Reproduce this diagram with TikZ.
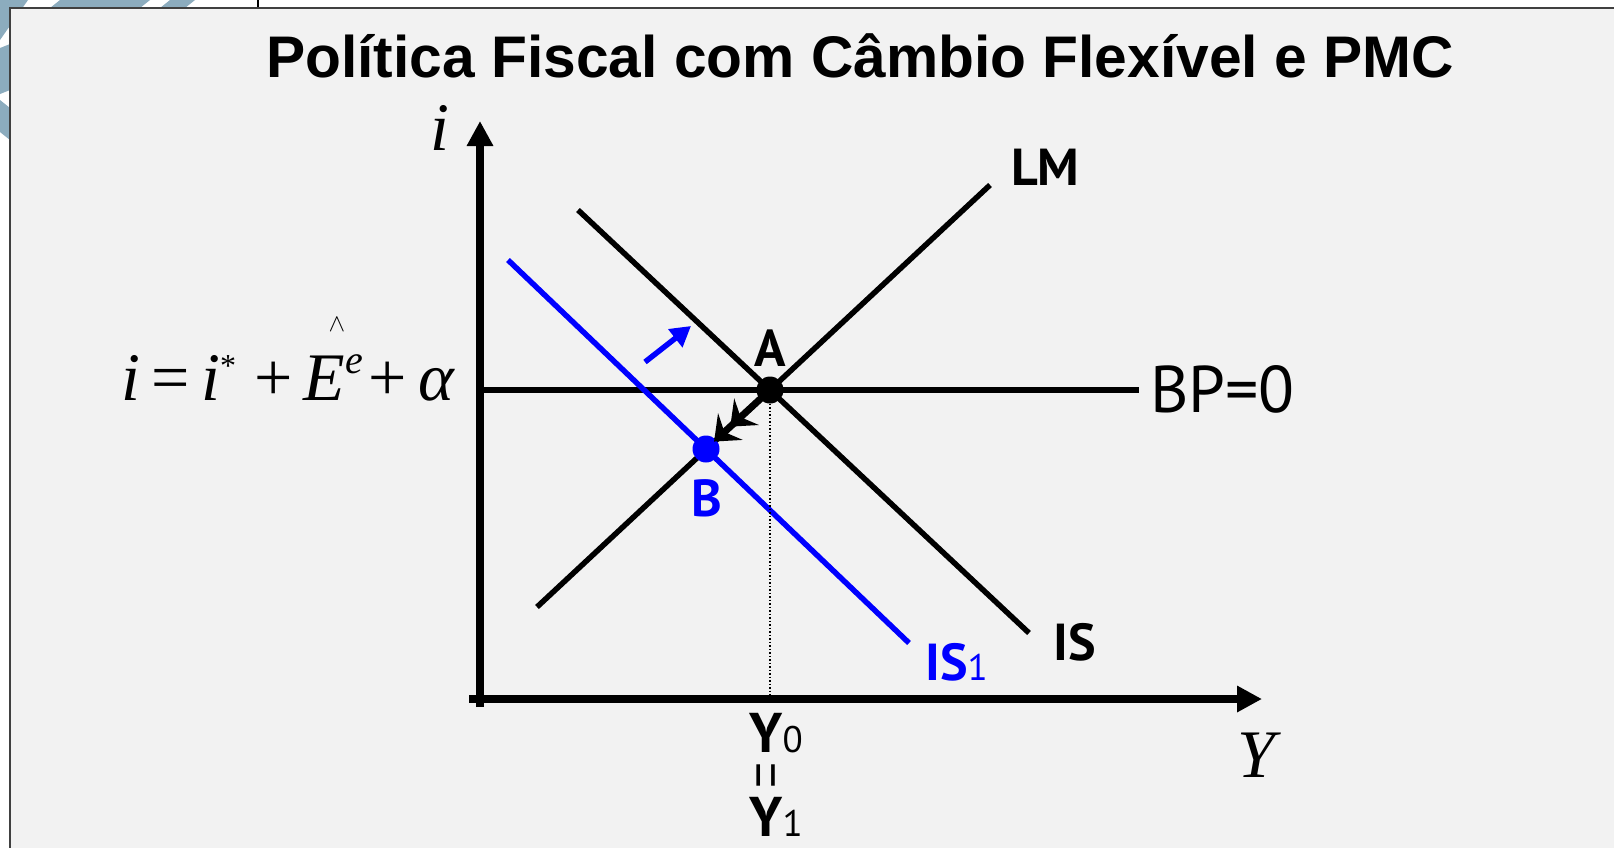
\documentclass[tikz,border=0pt]{standalone}
\usepackage{fontspec}
\setmainfont{Liberation Serif}
\newfontfamily\headfont{Liberation Sans}
\newfontfamily\lblfont{PT Sans}
\usetikzlibrary{arrows.meta,positioning,calc}
\definecolor{slidegray}{RGB}{242,242,242}
\definecolor{framegray}{RGB}{64,64,64}
\definecolor{tileblue}{RGB}{140,172,190}
\newcommand{\fs}[1]{\fontsize{#1}{#1}\selectfont}
\newcommand{\sub}[1]{{\mdseries\fs{37}#1}}
\tikzset{
  axis/.style={line width=8pt, -{Triangle[length=25pt,width=25pt]}},
  curve/.style={line width=5.5pt},
  shifted/.style={curve, blue},
  eqpt/.style={circle, fill=black, inner sep=0pt, minimum size=27pt},
  lbl/.style={font=\lblfont\bfseries\fs{52}, inner sep=0pt},
  mathlbl/.style={font=\itshape\fs{68}, inner sep=0pt},
  shiftarr/.style={line width=5.5pt, blue, -{Triangle[length=20pt,width=22pt]}},
  movearr/.style={line width=7pt, -{Stealth[length=22pt,width=36pt,inset=8pt]Stealth[length=22pt,width=36pt,inset=8pt]}, shorten <=8pt, shorten >=11pt}}

\begin{document}
\begin{tikzpicture}[x=1pt,y=-1pt]
  \useasboundingbox (0,0) rectangle (1614,847);
  % slide background
  \fill[white] (0,0) rectangle (1614,847);
  \fill[tileblue] (0,0) -- (28,0) -- (0,40) -- cycle;
  \fill[tileblue] (60,0) -- (150,0) -- (140,8) -- (50,8) -- cycle;
  \fill[tileblue] (170,0) -- (195,0) -- (185,8) -- (160,8) -- cycle;
  \fill[tileblue] (0,48) -- (10,44) -- (10,90) -- (0,94) -- cycle;
  \fill[tileblue] (0,100) -- (10,108) -- (10,140) -- (0,132) -- cycle;
  \draw[line width=2pt] (258,0) -- (258,8);
  \filldraw[fill=slidegray, draw=framegray, line width=2.5pt] (10,8) rectangle (1630,860);
  \node[font=\headfont\bfseries\fs{58.7}, anchor=base] (title) at (860,77) {Política Fiscal com Câmbio Flexível e PMC};

  % axes
  \coordinate (O) at (480,699);
  \coordinate (ytop) at (480,121);
  \coordinate (xend) at (1262,699);
  \draw[axis] (480,707) -- (ytop);
  \draw[axis] (469,699) -- (xend);
  \node[mathlbl] (ilab) at (440,128) {i};
  \node[mathlbl] (Ylab) at (1256,755) {Y};

  % curves
  \coordinate (lm1) at (537,607);  \coordinate (lm2) at (990,185);
  \coordinate (is1) at (578,210);  \coordinate (is2) at (1029,633);
  \coordinate (isb1) at (508,260); \coordinate (isb2) at (909,643);
  \coordinate (bp1) at (480,390);  \coordinate (bp2) at (1139,390);
  \draw[curve] (bp1) -- (bp2);
  \draw[curve] (lm1) -- (lm2);
  \draw[curve] (is1) -- (is2);
  \draw[shifted] (isb1) -- (isb2);

  \node[eqpt] (A) at (770,390) {};
  \node[eqpt, fill=blue] (B) at (706,449) {};
  \draw[dotted, line width=1.5pt] (A) -- (A |- O);
  \draw[movearr] (A.center) -- (B.center);
  \coordinate (sh1) at (645,362); \coordinate (sh2) at (691,326);
  \draw[shiftarr] (sh1) -- (sh2);

  % labels
  \node[lbl, anchor=base] (Alab) at (770,366) {A};
  \node[lbl, anchor=base, blue] (Blab) at (707,516) {B};
  \node[lbl, anchor=base west] (LMlab) at (1011,185) {LM};
  \node[lbl, anchor=base west] (ISlab) at (1053,660) {IS};
  \node[lbl, anchor=base west, blue] (IS1lab) at (925,680) {IS\sub{1}};
  \node[lbl, font=\lblfont\fs{66}, anchor=base west] (BPlab) at (1150,412) {BP=0};
  \node[lbl, anchor=base, font=\lblfont\fs{56}\bfseries] (Y0) at (776,752) {Y\sub{0}};
  \node[lbl, font=\fs{46}, rotate=90] (eq) at (774,776) {\scalebox{1}[1.6]{=}};
  \node[lbl, anchor=base, font=\lblfont\fs{56}\bfseries] (Y1) at (776,836) {Y\sub{1}};

  % BP level
  \node[font=\fs{68}, inner sep=0pt, anchor=base west] (level) at (121,400)
    {\textit{i}\,=\,\textit{i}\raisebox{24pt}{\fs{32}*}\hspace{18pt}+\,\textit{E}\raisebox{27pt}{\fs{40}\textit{e}}\hspace{6pt}+\,\textit{α}};
  \node[font=\fs{40}, inner sep=0pt] (hat) at (337,325) {$\wedge$};
\end{tikzpicture}
\end{document}
